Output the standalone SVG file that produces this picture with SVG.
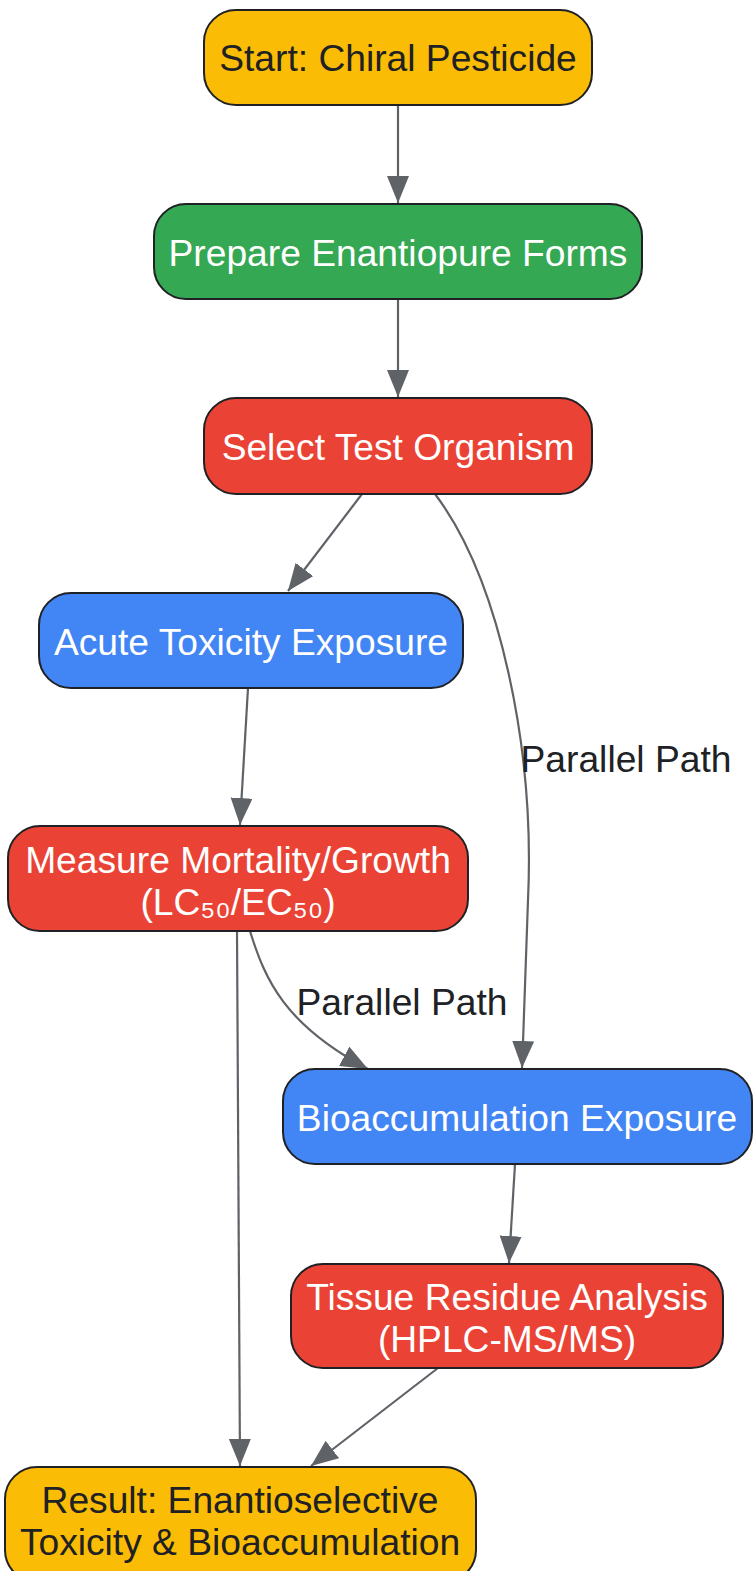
<svg xmlns="http://www.w3.org/2000/svg" width="753" height="1571" viewBox="0 0 753 1571">
<style>
.n{stroke:#202124;stroke-width:2}
.t{font-family:"Liberation Sans",Arial,sans-serif;font-size:37.2px;text-anchor:middle}
.w{fill:#ffffff}
.d{fill:#202124}
.e{fill:none;stroke:#5F6368;stroke-width:2.2}
</style>
<defs>
<marker id="ah" markerUnits="userSpaceOnUse" markerWidth="28" markerHeight="24" refX="27" refY="11" orient="auto">
<path d="M0,0 L27,11 L0,22 Z" fill="#5F6368"/>
</marker>
</defs>
<rect width="753" height="1571" fill="#ffffff"/>
<g id="edges">
<path class="e" d="M398,105 L398,203" marker-end="url(#ah)"/>
<path class="e" d="M398,299 L398,397" marker-end="url(#ah)"/>
<path class="e" d="M362,494 L288,591" marker-end="url(#ah)"/>
<path class="e" d="M435,494 C500,580 535,750 528,900 C525,980 524,1020 522,1068" marker-end="url(#ah)"/>
<path class="e" d="M248,688 L240,825" marker-end="url(#ah)"/>
<path class="e" d="M237,931 L240,1466" marker-end="url(#ah)"/>
<path class="e" d="M250,931 C265,980 285,1025 368,1069" marker-end="url(#ah)"/>
<path class="e" d="M515,1164 L509,1263" marker-end="url(#ah)"/>
<path class="e" d="M438,1368 L311,1466" marker-end="url(#ah)"/>
<text class="t d" x="626" y="772">Parallel Path</text>
<text class="t d" x="402" y="1015">Parallel Path</text>
</g>
<g id="start">
<rect class="n" x="204" y="10" width="388" height="95" rx="32" fill="#FBBC05"/>
<text class="t d" x="398" y="71">Start: Chiral Pesticide</text>
</g>
<g id="prepare">
<rect class="n" x="154" y="204" width="488" height="95" rx="32" fill="#34A853"/>
<text class="t w" x="398" y="266">Prepare Enantiopure Forms</text>
</g>
<g id="select">
<rect class="n" x="204" y="398" width="388" height="96" rx="32" fill="#EA4335"/>
<text class="t w" x="398" y="460">Select Test Organism</text>
</g>
<g id="acute">
<rect class="n" x="39" y="593" width="424" height="95" rx="32" fill="#4285F4"/>
<text class="t w" x="251" y="655">Acute Toxicity Exposure</text>
</g>
<g id="measure">
<rect class="n" x="8" y="826" width="460" height="105" rx="32" fill="#EA4335"/>
<text class="t w" x="238" y="873">Measure Mortality/Growth</text>
<text class="t w" x="238" y="915">(LC₅₀/EC₅₀)</text>
</g>
<g id="bioacc">
<rect class="n" x="283" y="1069" width="469" height="95" rx="32" fill="#4285F4"/>
<text class="t w" x="517" y="1131">Bioaccumulation Exposure</text>
</g>
<g id="tissue">
<rect class="n" x="291" y="1264" width="432" height="104" rx="32" fill="#EA4335"/>
<text class="t w" x="507" y="1310">Tissue Residue Analysis</text>
<text class="t w" x="507" y="1352">(HPLC-MS/MS)</text>
</g>
<g id="result">
<rect class="n" x="5" y="1467" width="471" height="115" rx="32" fill="#FBBC05"/>
<text class="t d" x="240" y="1513">Result: Enantioselective</text>
<text class="t d" x="240" y="1555">Toxicity &amp; Bioaccumulation</text>
</g>
</svg>
